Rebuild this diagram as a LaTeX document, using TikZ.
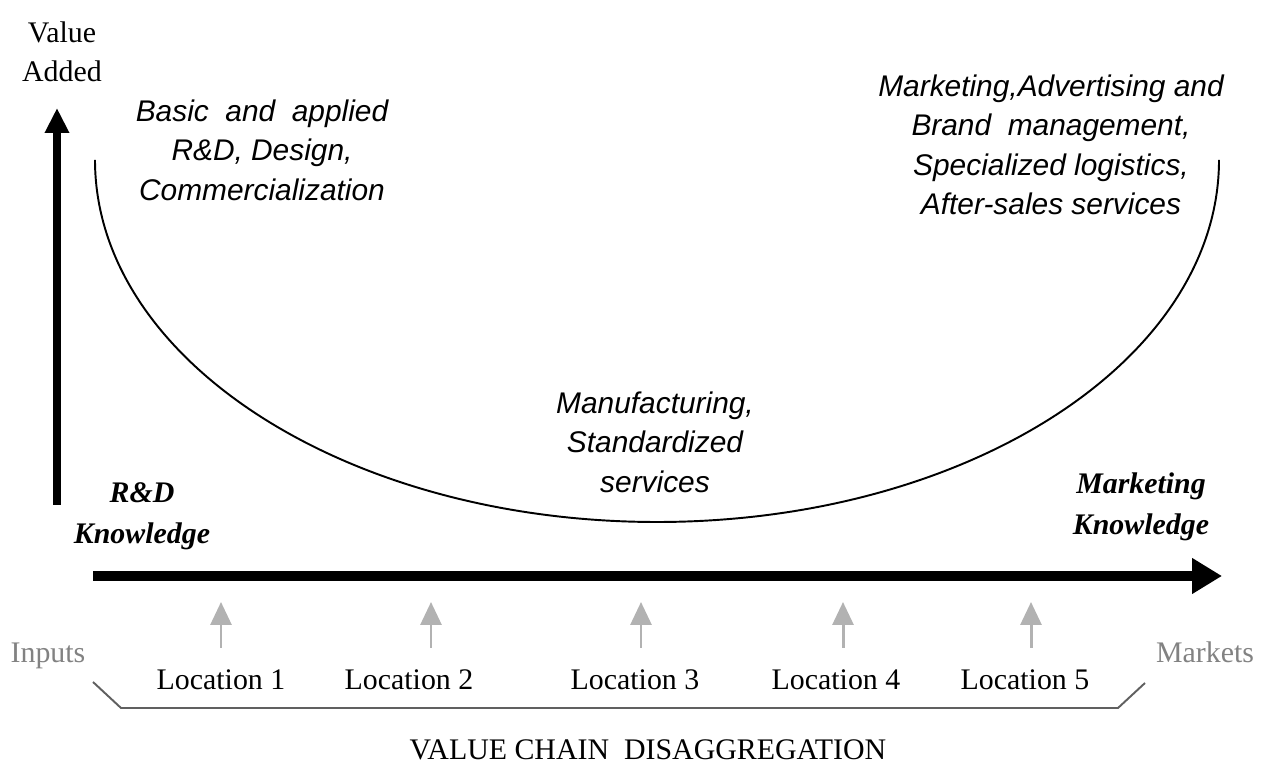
\documentclass[tikz,border=0pt]{standalone}
\usepackage{fontspec}
\setmainfont{Liberation Serif}
\newfontfamily\arialfont{Liberation Sans}
\usetikzlibrary{arrows.meta}

\definecolor{lightarrow}{RGB}{178,178,178}
\definecolor{bracketgray}{RGB}{96,96,96}
\definecolor{endgray}{RGB}{130,130,130}

\tikzset{
  serif/.style={font=\fontsize{17}{22}\selectfont, align=center, inner sep=1pt},
  activity/.style={font=\arialfont\itshape\fontsize{17}{22.5}\selectfont, align=center, inner sep=1pt},
  knowledge/.style={font=\bfseries\itshape\fontsize{17}{23.5}\selectfont, align=center, inner sep=1pt},
  uparrow/.style={lightarrow, line width=1.7pt, -{Triangle[length=0.46cm,width=0.42cm]}}
}

\begin{document}
\begin{tikzpicture}
\useasboundingbox (0,0) rectangle (25.22,15.3);

% axes
\coordinate (vbot) at (1.14,5.2);
\coordinate (vtop) at (1.14,13.14);
\coordinate (hleft) at (1.86,3.78);
\coordinate (hright) at (24.44,3.78);
\draw[line width=4.5pt, -{Triangle[length=0.5cm,width=0.46cm]}] (vbot) -- (vtop);
\draw[line width=6.2pt, -{Triangle[length=0.6cm,width=0.68cm]}] (hleft) -- (hright);

\node[serif] (va) at (1.24,14.26) {Value\\Added};

% the smile curve
\draw[line width=1.1pt] (1.9,12.1) arc[start angle=180, end angle=360, x radius=11.24, y radius=7.24];

\node[activity] (rd) at (5.24,12.3) {Basic \ and \ applied\\R\&D, Design,\\Commercialization};
\node[activity] (mk) at (21.02,12.4) {Marketing,Advertising and\\Brand \ management,\\Specialized logistics,\\After-sales services};
\node[activity] (mf) at (13.1,6.46) {Manufacturing,\\Standardized\\services};

\node[knowledge] (rdk) at (2.84,4.98) {R\&D\\Knowledge};
\node[knowledge] (mkk) at (22.82,5.16) {Marketing\\Knowledge};

% locations
\node[serif] (loc1) at (4.42,1.7) {Location 1};
\node[serif] (loc2) at (8.18,1.7) {Location 2};
\node[serif] (loc3) at (12.7,1.7) {Location 3};
\node[serif] (loc4) at (16.72,1.7) {Location 4};
\node[serif] (loc5) at (20.5,1.7) {Location 5};

\coordinate (up1) at (4.42,2.34);
\coordinate (up2) at (8.62,2.34);
\coordinate (up3) at (12.82,2.34);
\coordinate (up4) at (16.86,2.34);
\coordinate (up5) at (20.62,2.34);
\draw[uparrow] (up1) -- ++(0,0.92);
\draw[uparrow] (up2) -- ++(0,0.92);
\draw[uparrow] (up3) -- ++(0,0.92);
\draw[uparrow] (up4) -- ++(0,0.92);
\draw[uparrow] (up5) -- ++(0,0.92);

\node[serif, text=endgray, anchor=base] (in) at (0.96,2.04) {Inputs};
\node[serif, text=endgray, anchor=base] (out) at (24.1,2.04) {Markets};

% bracket under the locations
\draw[bracketgray, line width=1.1pt] (1.86,1.66) -- (2.42,1.14) -- (22.36,1.14) -- (22.9,1.64);

\node[serif] (vcd) at (12.96,0.3) {VALUE CHAIN~~DISAGGREGATION};
\end{tikzpicture}
\end{document}
